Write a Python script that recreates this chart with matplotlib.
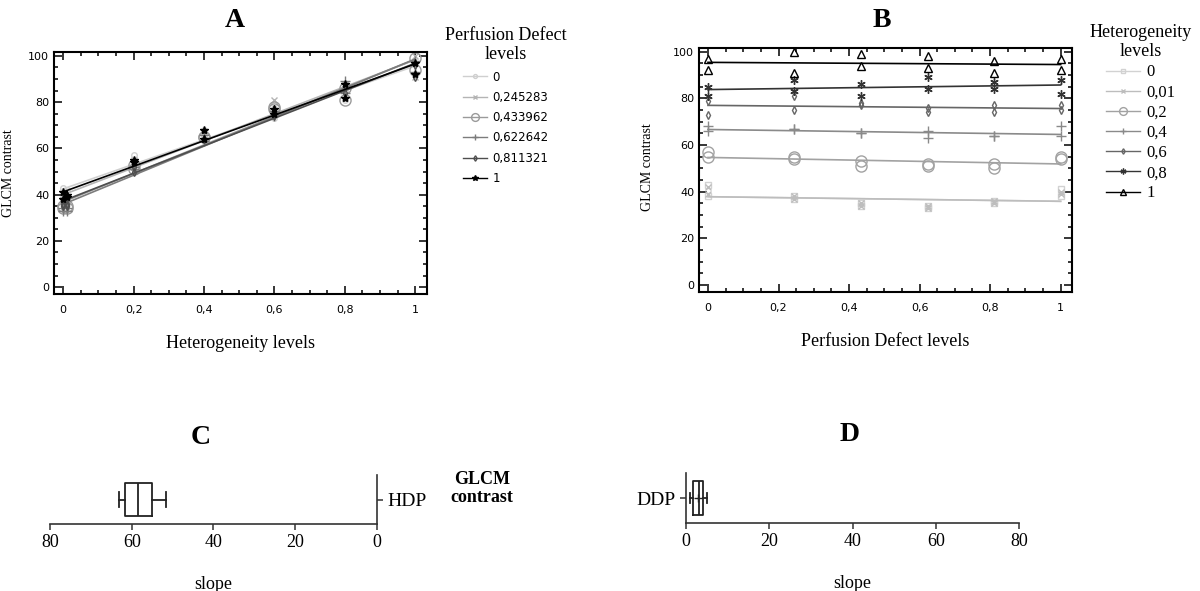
import numpy as np
import matplotlib.pyplot as plt
from matplotlib.ticker import MultipleLocator
from matplotlib.lines import Line2D

plt.rcParams['font.family'] = 'Liberation Serif'

het_levels = [0, 0.01, 0.2, 0.4, 0.6, 0.8, 1]
het_labels = ['0', '0,01', '0,2', '0,4', '0,6', '0,8', '1']
pd_levels = [0, 0.245283, 0.433962, 0.622642, 0.811321, 1]
pd_labels = ['0', '0,245283', '0,433962', '0,622642', '0,811321', '1']

# GLCM contrast, rows = heterogeneity level, columns = perfusion defect level
contrast_run1 = [
    [43, 38, 35, 34, 36, 41],
    [42, 37, 34, 33, 35, 40],
    [57, 55, 53, 52, 52, 55],
    [68, 67, 65, 66, 64, 68],
    [79, 81, 78, 76, 77, 77],
    [85, 88, 86, 89, 87, 88],
    [97, 100, 99, 98, 96, 97],
]
contrast_run2 = [
    [38, 37, 34, 33, 35, 38],
    [39, 38, 35, 34, 36, 39],
    [55, 54, 51, 51, 50, 54],
    [66, 67, 65, 63, 64, 64],
    [73, 75, 77, 74, 74, 75],
    [81, 83, 81, 84, 84, 82],
    [92, 91, 94, 93, 91, 92],
]

hdp_slopes = [51.5, 54.3, 57.0, 60.0, 62.3, 63.0]
ddp_slopes = [1.0, 1.5, 2.0, 3.0, 3.5, 4.5, 5.0]

tick_vals = [0, 0.2, 0.4, 0.6, 0.8, 1]
tick_labels = ['0', '0,2', '0,4', '0,6', '0,8', '1']
ytick_vals = [0, 20, 40, 60, 80, 100]

pd_colors = ['#cfcfcf', '#b4b4b4', '#9a9a9a', '#7c7c7c', '#4e4e4e', '#000000']
pd_markers = ['o', 'x', 'o', '+', 'd', '*']
pd_msize = [4, 5, 8, 7, 4, 6]
pd_fill = ['none', 'full', 'none', 'full', 'none', 'full']

het_colors = ['#d2d2d2', '#bdbdbd', '#a2a2a2', '#8a8a8a', '#666666', '#333333', '#000000']
het_markers = ['s', 'x', 'o', '+', 'd', (6, 2, 0), '^']
het_msize = [5, 5, 8, 7, 4, 6, 6]
het_fill = ['none', 'full', 'none', 'full', 'none', 'full', 'none']

run1 = np.array(contrast_run1, dtype=float)
run2 = np.array(contrast_run2, dtype=float)
het = np.array(het_levels)
pdl = np.array(pd_levels)

fig = plt.figure(figsize=(12, 5.91), dpi=100)


def style_ax(ax):
    ax.set_ylim(-3, 101.7)
    ax.set_xticks(tick_vals)
    ax.set_xticklabels(tick_labels, family='DejaVu Sans', fontsize=8)
    ax.set_yticks(ytick_vals)
    ax.set_yticklabels([str(v) for v in ytick_vals], family='DejaVu Sans', fontsize=8)
    ax.xaxis.set_minor_locator(MultipleLocator(0.05))
    ax.yaxis.set_minor_locator(MultipleLocator(5))
    ax.tick_params(which='both', direction='in', top=True, right=True, width=1.1)
    ax.tick_params(which='major', length=6)
    ax.tick_params(which='minor', length=3)
    ax.tick_params(axis='x', pad=8)
    for sp in ax.spines.values():
        sp.set_linewidth(1.5)


# panel A
axa = fig.add_axes([0.045, 0.5025, 0.311, 0.4095])
xs = np.array([0, 1])
handles = []
for j in range(len(pd_levels)):
    c = pd_colors[j]
    for run in (run1, run2):
        axa.plot(het, run[:, j], ls='none', marker=pd_markers[j], ms=pd_msize[j],
                 color=c, fillstyle=pd_fill[j], mew=1)
    b, a = np.polyfit(np.concatenate([het, het]), np.concatenate([run1[:, j], run2[:, j]]), 1)
    axa.plot(xs, a + b * xs, color=c, lw=1.2)
    handles.append(Line2D([], [], color=c, marker=pd_markers[j], ms=pd_msize[j] * 0.7,
                          fillstyle=pd_fill[j], lw=1))
axa.set_xlim(-0.026, 1.034)
style_ax(axa)
axa.set_xlabel('Heterogeneity levels', fontsize=13)
axa.xaxis.set_label_coords(0.5, -0.17)
axa.set_ylabel('GLCM contrast', fontsize=10)
axa.yaxis.set_label_coords(-0.105, 0.5)
leg = fig.legend(handles, pd_labels, title='Perfusion Defect\nlevels', loc='upper left',
                 bbox_to_anchor=(0.371, 0.955), frameon=False, borderpad=0, borderaxespad=0,
                 handlelength=2.0, handletextpad=0.5, labelspacing=0.62,
                 prop={'family': 'DejaVu Sans', 'size': 8.5}, title_fontsize=13)
leg.get_title().set_multialignment('center')

# panel B
axb = fig.add_axes([0.5825, 0.506, 0.3105, 0.413])
handles = []
for i in range(len(het_levels)):
    c = het_colors[i]
    for run in (run1, run2):
        axb.plot(pdl, run[i, :], ls='none', marker=het_markers[i], ms=het_msize[i],
                 color=c, fillstyle=het_fill[i], mew=1)
    b, a = np.polyfit(np.concatenate([pdl, pdl]), np.concatenate([run1[i, :], run2[i, :]]), 1)
    axb.plot(xs, a + b * xs, color=c, lw=1.2)
    handles.append(Line2D([], [], color=c, marker=het_markers[i], ms=het_msize[i] * 0.7,
                          fillstyle=het_fill[i], lw=1))
axb.set_xlim(-0.0255, 1.031)
style_ax(axb)
axb.set_xlabel('Perfusion Defect levels', fontsize=13)
axb.xaxis.set_label_coords(0.5, -0.17)
axb.set_ylabel('GLCM contrast', fontsize=10)
axb.yaxis.set_label_coords(-0.12, 0.51)
leg = fig.legend(handles, het_labels, title='Heterogeneity\nlevels', loc='upper left',
                 bbox_to_anchor=(0.908, 0.96), frameon=False, borderpad=0, borderaxespad=0,
                 handlelength=2.0, handletextpad=0.4, labelspacing=0.25,
                 prop={'size': 12}, title_fontsize=13)
leg.get_title().set_multialignment('center')

box_kw = dict(orientation='horizontal', positions=[1], widths=0.68, whis=(0, 100),
              boxprops=dict(color='#222222', lw=1.3),
              whiskerprops=dict(color='#222222', lw=1.3),
              capprops=dict(color='#222222', lw=1.3),
              medianprops=dict(color='#222222', lw=1.3))

# panel C
axc = fig.add_axes([0.0417, 0.1134, 0.2723, 0.0826])
axc.boxplot(hdp_slopes, capwidths=0.3, **box_kw)
axc.set_xlim(80, 0)
axc.set_ylim(0.5, 1.5)
axc.spines['top'].set_visible(False)
axc.spines['left'].set_visible(False)
axc.yaxis.tick_right()
axc.set_yticks([1])
axc.set_yticklabels(['HDP'], fontsize=14)
axc.set_xticks([80, 60, 40, 20, 0])
axc.set_xticklabels(['80', '60', '40', '20', '0'], fontsize=13)
axc.tick_params(length=4, width=1.1, color='#333333')
axc.set_xlabel('slope', fontsize=13, labelpad=18)
for sp in axc.spines.values():
    sp.set_linewidth(1.2)
    sp.set_color('#333333')

# panel D
axd = fig.add_axes([0.5717, 0.115, 0.2775, 0.0847])
axd.boxplot(ddp_slopes, capwidths=0.2, showmeans=True,
            meanprops=dict(marker='+', markeredgecolor='#222222', markersize=6), **box_kw)
axd.set_xlim(0, 80)
axd.set_ylim(0.5, 1.5)
axd.spines['top'].set_visible(False)
axd.spines['right'].set_visible(False)
axd.set_yticks([1])
axd.set_yticklabels(['DDP'], fontsize=14)
axd.set_xticks([0, 20, 40, 60, 80])
axd.set_xticklabels(['0', '20', '40', '60', '80'], fontsize=13)
axd.tick_params(length=4, width=1.1, color='#333333')
axd.set_xlabel('slope', fontsize=13, labelpad=18)
for sp in axd.spines.values():
    sp.set_linewidth(1.2)
    sp.set_color('#333333')

fig.text(0.4017, 0.174, 'GLCM\ncontrast', ha='center', va='center', fontsize=13,
         fontweight='bold', linespacing=1.1)

for lab, x, y in [('A', 0.196, 0.965), ('B', 0.735, 0.965), ('C', 0.167, 0.26), ('D', 0.708, 0.264)]:
    fig.text(x, y, lab, ha='center', va='center', fontsize=20, fontweight='bold')

fig.savefig('out.png', dpi=100)
